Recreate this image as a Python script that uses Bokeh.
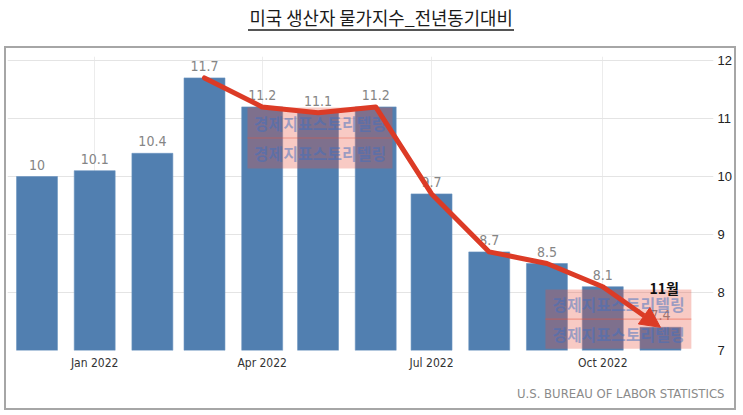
import pandas as pd
from bokeh.plotting import figure
from bokeh.models import (Range1d, FixedTicker, DatetimeTickFormatter, Label,
                          Title, Arrow, NormalHead, ColumnDataSource,
                          InlineStyleSheet)
from bokeh.core.properties import value
from bokeh.embed import file_html
from bokeh.resources import INLINE

# US producer price index, year-over-year change (%)
months = ["2021-12", "2022-01", "2022-02", "2022-03", "2022-04", "2022-05",
          "2022-06", "2022-07", "2022-08", "2022-09", "2022-10", "2022-11"]
ppi_yoy = [10.0, 10.1, 10.4, 11.7, 11.2, 11.1, 11.2, 9.7, 8.7, 8.5, 8.1, 7.4]
tick_months = ["2022-01", "2022-04", "2022-07", "2022-10"]
y_ticks = [7, 8, 9, 10, 11, 12]

title_text = "미국 생산자 물가지수_전년동기대비"
source_text = "U.S. BUREAU OF LABOR STATISTICS"
watermark_text = "경제지표스토리텔링"
last_label = "11월"

base = pd.Timestamp("2021-12-01")


def day(d):
    """Milliseconds for a date `d` days after the first bar."""
    return (base + pd.Timedelta(days=d)).value / 1e6


def ms(m):
    return pd.Timestamp(m).value / 1e6


xs = [ms(m) for m in months]
src = ColumnDataSource(dict(x=xs, y=ppi_yoy, bottom=[7] * len(xs),
                            label=[f"{v:g}" for v in ppi_yoy]))

# outer gray frame and title underline drawn as overlay boxes
frame_css = InlineStyleSheet(css="""
:host { position: relative; }
:host::before {
  content: ""; position: absolute; left: 248px; top: 29px; z-index: 10;
  width: 266px; height: 2px; background: #555555; pointer-events: none;
}
:host::after {
  content: ""; position: absolute; left: 4px; top: 46px; z-index: 10;
  width: 732px; height: 364px; box-sizing: border-box;
  border: 2.5px solid #a6a6a6; pointer-events: none;
}
""")

frame_top = 56
p = figure(width=743, height=415, x_axis_type="datetime",
           y_axis_location="right", output_backend="svg", toolbar_location=None,
           x_range=Range1d(day(-15.85), day(363.5)),
           y_range=Range1d(7, 7 + (350 - frame_top) / 58),
           min_border_left=7, min_border_right=30,
           min_border_top=frame_top, min_border_bottom=65,
           stylesheets=[frame_css])
p.outline_line_color = None
p.background_fill_color = "white"
p.border_fill_color = "white"

# spacer between the frame and the title, then the title itself
p.add_layout(Title(text=" ", text_font_size="1px", standoff=24), "above")
p.add_layout(Title(text=title_text, align="left", offset=242, standoff=0,
                   text_font="Noto Sans CJK KR", text_font_style="normal",
                   text_font_size="17.8px", text_color="#1a1a1a"), "above")

p.add_layout(Title(text=source_text, align="right", offset=-11, standoff=22,
                   text_font="DejaVu Sans Condensed", text_font_style="normal",
                   text_font_size="13px", text_color="#8a8a8a"), "below")

# grid
p.xgrid.ticker = FixedTicker(ticks=[ms(m) for m in tick_months])
p.xgrid.grid_line_color = "#ececec"
p.ygrid.grid_line_color = "#e4e4e4"

# axes
p.xaxis.ticker = FixedTicker(ticks=[ms(m) for m in tick_months])
fmt = "%b %Y"
p.xaxis.formatter = DatetimeTickFormatter(days=fmt, months=fmt, years=fmt)
p.xaxis.axis_line_color = None
p.xaxis.major_tick_line_color = None
p.xaxis.minor_tick_line_color = None
p.xaxis.major_tick_out = 0
p.xaxis.major_label_standoff = 5
p.xaxis.major_label_text_font = "DejaVu Sans Condensed"
p.xaxis.major_label_text_font_size = "12px"
p.xaxis.major_label_text_color = "#333333"

p.yaxis.ticker = FixedTicker(ticks=y_ticks)
p.yaxis.axis_line_color = None
p.yaxis.major_tick_line_color = None
p.yaxis.minor_tick_line_color = None
p.yaxis.major_tick_out = 0
p.yaxis.major_label_standoff = 4
p.yaxis.major_label_text_font = "Liberation Sans"
p.yaxis.major_label_text_font_size = "13px"
p.yaxis.major_label_text_color = "#222222"

# bars and value labels
bar_w = 22 * 24 * 3600 * 1000
p.vbar(x="x", top="y", bottom="bottom", width=bar_w, source=src,
       fill_color="#517fb0", line_color="#6a93bf", line_width=0.6)
p.text(x="x", y="y", text="label", source=src, y_offset=-7,
       text_align="center", text_baseline="bottom",
       text_font=value("DejaVu Sans Condensed"), text_font_size="14px",
       text_color="#858585")

# watermark stamps
for (d0, d1, top, bottom) in [(113.1, 191.0, 11.19, 10.138),
                              (273.2, 351.6, 8.05, 7.03)]:
    mid = (top + bottom) / 2
    p.quad(left=[day(d0)], right=[day(d1)], top=[top], bottom=[bottom],
           fill_color="#e8503a", fill_alpha=0.3, line_color=None)
    p.segment(x0=[day(d0)], x1=[day(d1)], y0=[mid], y1=[mid],
              line_color="#e8503a", line_alpha=0.45, line_width=1.2)
    for yc in [(top + mid) / 2, (mid + bottom) / 2]:
        p.text(x=[day((d0 + d1) / 2)], y=[yc], text=[watermark_text],
               text_align="center", text_baseline="middle",
               text_font=value("Noto Sans CJK KR"), text_font_style="bold",
               text_font_size="16px", text_color="#3f6fc0", text_alpha=0.5)

# trend line from March through October, then arrow to November
p.line(x=xs[3:11], y=ppi_yoy[3:11], line_color="#dc3b26", line_width=5,
       line_join="round", line_cap="round")
p.add_layout(Arrow(end=NormalHead(size=20, fill_color="#dc3b26",
                                  line_color="#dc3b26"),
                   x_start=xs[10], y_start=ppi_yoy[10],
                   x_end=xs[11], y_end=ppi_yoy[11],
                   line_color="#dc3b26", line_width=5))

p.add_layout(Label(x=xs[11] + 2 * 86400000, y=8.086, text=last_label,
                   text_align="center", text_baseline="middle",
                   text_font="Noto Sans CJK KR", text_font_style="bold",
                   text_font_size="14px", text_color="#111111"))

open("out.html", "w").write(file_html(p, INLINE))
